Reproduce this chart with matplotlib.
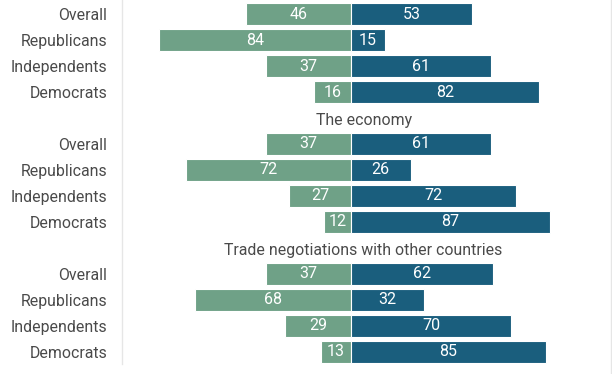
import numpy as np
import matplotlib
matplotlib.use('Agg')
import matplotlib.pyplot as plt
from matplotlib.lines import Line2D

plt.rcParams['font.family'] = ['Roboto', 'DejaVu Sans']

groups = ['', 'The economy', 'Trade negotiations with other countries']
rows = ['Overall', 'Republicans', 'Independents', 'Democrats']
disapprove = [[46, 84, 37, 16],
              [37, 72, 27, 12],
              [37, 68, 29, 13]]
approve = [[53, 15, 61, 82],
           [61, 26, 72, 87],
           [62, 32, 70, 85]]

green = '#6fa187'
blue = '#1a5e7d'
txt = '#4a4a4a'

fig = plt.figure(figsize=(6.12, 3.74), dpi=100)
ax = fig.add_axes([121/612., 0., 490/612., 1.])

yt = []
ylab = []
for g in range(len(groups)):
    pos = g*5 + np.arange(len(rows))
    d = np.array(disapprove[g]); a = np.array(approve[g])
    ax.barh(pos, -d, height=0.85, color=green, edgecolor='white', linewidth=0.8)
    ax.barh(pos, a, height=0.85, color=blue, edgecolor='white', linewidth=0.8)
    for p, v in zip(pos, d):
        ax.text(-v/2., p, str(v), ha='center', va='center', color='white', fontsize=11.5)
    for p, v in zip(pos, a):
        ax.text(v/2., p, str(v), ha='center', va='center', color='white', fontsize=11.5)
    if groups[g]:
        ax.text(5.5, g*5 - 0.885, groups[g], ha='center', va='center', color=txt, fontsize=11.4)
    yt += list(pos); ylab += rows

ax.set_xlim(-100.4, 113.5)
ax.set_ylim(13.85, -0.54)
ax.set_yticks(yt)
ax.set_yticklabels(ylab, fontsize=11.4, color=txt)
ax.tick_params(axis='y', length=0, pad=10)
ax.set_xticks([])
for s in ax.spines.values():
    s.set_visible(False)

# thin frame lines
fig.add_artist(Line2D([121.5/612, 121.5/612], [1, 10/374.], color='#e6e6e6', lw=1))
fig.add_artist(Line2D([611/612, 611/612], [1, 0], color='#e6e6e6', lw=1))

plt.savefig('out.png', dpi=100)
